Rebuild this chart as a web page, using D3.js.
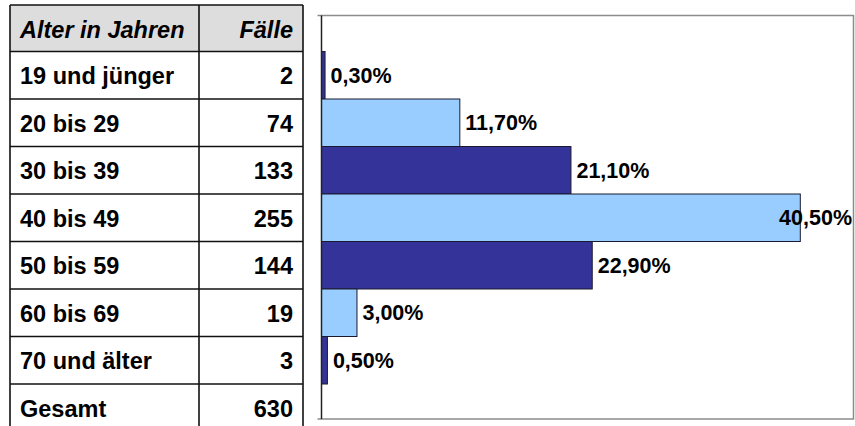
<!DOCTYPE html>
<html lang="de">
<head>
<meta charset="utf-8">
<script src="https://cdn.jsdelivr.net/npm/d3@7"></script>
<style>
  html, body { margin: 0; padding: 0; background: #fff; }
  svg { display: block; font-family: "Liberation Sans", Arial, Helvetica, sans-serif; }
</style>
</head>
<body>
<svg id="chart" width="855" height="426"></svg>
<script>
// Altersgruppen, Fallzahlen und Anteile
const ageGroups = ["19 und jünger", "20 bis 29", "30 bis 39", "40 bis 49", "50 bis 59", "60 bis 69", "70 und älter"];
const cases = [2, 74, 133, 255, 144, 19, 3];
const shares = [0.3, 11.7, 21.1, 40.5, 22.9, 3.0, 0.5];
const totalLabel = "Gesamt";
const totalCases = 630;
const headers = ["Alter in Jahren", "Fälle"];
const barColors = ["#333399", "#99CCFF"];

const svg = d3.select("#chart");

// Layout
const table = { left: 10, mid: 199, right: 303, top: 5 };
const rowTop = 51.5, rowH = 47.5;
const plot = { left: 321.5, right: 853.5, top: 15.5, bottom: 419 };

const y = d3.scaleBand()
  .domain(ageGroups)
  .range([rowTop, rowTop + rowH * ageGroups.length])
  .padding(0);

const x = d3.scaleLinear()
  .domain([0, 45])
  .range([plot.left, plot.right]);

const fmt = v => d3.format(".2f")(v).replace(".", ",") + "%";

// ---------- Tabelle ----------
const tg = svg.append("g");
const lastTop = y.range()[1];
const lastBottom = lastTop + y.bandwidth();

tg.append("rect")
  .attr("x", table.left).attr("y", table.top)
  .attr("width", table.right - table.left).attr("height", rowTop - table.top)
  .attr("fill", "#dddddd");

const lineStyle = sel => sel.attr("stroke", "#111").attr("stroke-width", 1.6);

// horizontale Linien
const hLines = [table.top, ...ageGroups.map(g => y(g)), lastTop];
tg.selectAll("line.h").data(hLines).join("line")
  .attr("class", "h")
  .attr("x1", table.left).attr("x2", table.right)
  .attr("y1", d => d).attr("y2", d => d)
  .call(lineStyle);

// vertikale Linien
tg.selectAll("line.v").data([table.left, table.mid, table.right]).join("line")
  .attr("class", "v")
  .attr("x1", d => d).attr("x2", d => d)
  .attr("y1", table.top).attr("y2", lastBottom)
  .call(lineStyle);

const fontSize = 23.5;
// Kopfzeile
tg.append("text")
  .attr("x", table.left + 10).attr("y", table.top + 32.5)
  .attr("font-size", fontSize).attr("font-weight", "bold").attr("font-style", "italic")
  .text(headers[0]);
tg.append("text")
  .attr("x", table.right - 10).attr("y", table.top + 32.5)
  .attr("text-anchor", "end")
  .attr("font-size", fontSize).attr("font-weight", "bold").attr("font-style", "italic")
  .text(headers[1]);

// Datenzeilen
const rows = ageGroups.map((g, i) => ({ label: g, n: cases[i], top: y(g) }));
rows.push({ label: totalLabel, n: totalCases, top: lastTop });

tg.selectAll("text.lab").data(rows).join("text")
  .attr("class", "lab")
  .attr("x", table.left + 10).attr("y", d => d.top + 32.5)
  .attr("font-size", fontSize).attr("font-weight", "bold")
  .text(d => d.label);

tg.selectAll("text.num").data(rows).join("text")
  .attr("class", "num")
  .attr("x", table.right - 10).attr("y", d => d.top + 32.5)
  .attr("text-anchor", "end")
  .attr("font-size", fontSize).attr("font-weight", "bold")
  .text(d => d.n);

// ---------- Balkendiagramm ----------
const cg = svg.append("g");

// Rahmen (oben, rechts, unten)
cg.append("path")
  .attr("d", `M${plot.left - 4},${plot.top}H${plot.right}V${plot.bottom}H${plot.left - 4}`)
  .attr("fill", "none").attr("stroke", "#8c8c8c").attr("stroke-width", 1.5);

const data = ageGroups.map((g, i) => ({ g, v: shares[i], i }));

cg.selectAll("rect.bar").data(data).join("rect")
  .attr("class", "bar")
  .attr("x", x(0))
  .attr("y", d => y(d.g))
  .attr("width", d => x(d.v) - x(0))
  .attr("height", y.bandwidth())
  .attr("fill", d => barColors[d.i % 2])
  .attr("stroke", "#1a1a2e").attr("stroke-width", 1);

// Kategorienachse links
cg.append("line")
  .attr("x1", plot.left).attr("x2", plot.left)
  .attr("y1", plot.top).attr("y2", plot.bottom)
  .attr("stroke", "#222").attr("stroke-width", 1.5);

// Wertbeschriftungen
const labels = cg.selectAll("text.val").data(data).join("text")
  .attr("class", "val")
  .attr("y", d => y(d.g) + y.bandwidth() / 2 + 7.5)
  .attr("font-size", 21.5).attr("font-weight", "bold")
  .attr("fill", "#000")
  .text(d => fmt(d.v));

labels.attr("x", function (d) {
  const w = this.getComputedTextLength();
  return Math.min(x(d.v) + 5.5, plot.right - w - 1.5);
});
</script>
</body>
</html>
